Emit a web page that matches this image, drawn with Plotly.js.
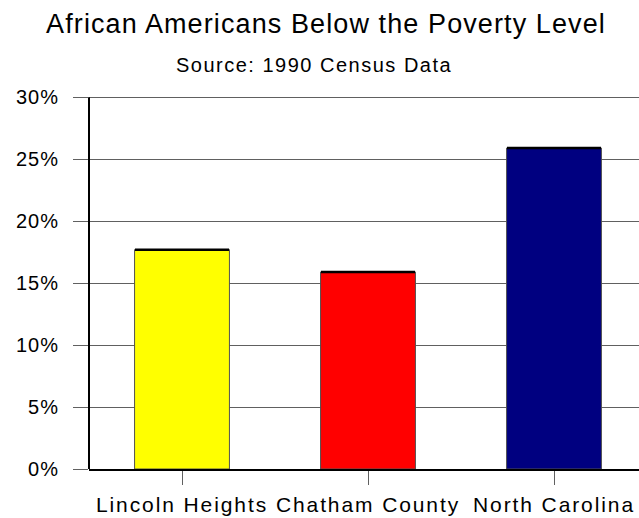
<!DOCTYPE html>
<html>
<head>
<meta charset="utf-8">
<script src="https://cdn.plot.ly/plotly-3.0.1.min.js"></script>
<style>
body{margin:0;padding:0;background:#fff;}
#chart{width:639px;height:518px;}
.gtitle{letter-spacing:1.1px;}
.annotation-text{letter-spacing:1.5px;}
.xtick text{letter-spacing:1.9px;}
.ytick text{letter-spacing:1px;}
</style>
</head>
<body>
<div id="chart"></div>
<script>
var categories = ["Lincoln Heights", "Chatham County", "North Carolina"];
var values = [17.7, 15.9, 25.9];
var barColors = ["#FFFF00", "#FF0000", "#000080"];
var yTicks = [0, 5, 10, 15, 20, 25, 30];
var yTickLabels = ["0%", "5%", "10%", "15%", "20%", "25%", "30%"];

var W = 639, H = 518;
var mL = 89, mR = 0, mT = 91, mB = 49;
var plotW = W - mL - mR;
var plotH = H - mT - mB;
var catWidth = 186;
var xMax = -0.5 + plotW / catWidth;
var yMax = 30.5;
var axisTop = yTicks[yTicks.length - 1];

var trace = {
  type: "bar",
  x: categories,
  y: values,
  width: 0.51,
  marker: {color: barColors, line: {color: "#505050", width: 1}},
  error_y: {type: "constant", value: 0, width: 47, thickness: 2.5, color: "#000000"},
  hoverinfo: "none"
};

var font = "Liberation Sans, Arial, sans-serif";
var layout = {
  width: W, height: H,
  margin: {l: mL, r: mR, t: mT, b: mB},
  paper_bgcolor: "#ffffff",
  plot_bgcolor: "#ffffff",
  showlegend: false,
  font: {family: font, color: "#000000"},
  title: {
    text: "African Americans Below the Poverty Level",
    font: {family: font, size: 27, color: "#000000"},
    x: 326 / W, xanchor: "center", xref: "container",
    y: 1 - 24 / H, yanchor: "middle", yref: "container"
  },
  annotations: [{
    text: "Source: 1990 Census Data",
    xref: "paper", yref: "paper",
    x: (314 - mL) / plotW, y: 1 + (mT - 65) / plotH,
    xanchor: "center", yanchor: "middle",
    showarrow: false,
    font: {family: font, size: 20, color: "#000000"}
  }],
  shapes: [{
    type: "line", xref: "paper", yref: "y",
    x0: 0, x1: 0, y0: 0, y1: axisTop,
    line: {color: "#000000", width: 2},
    layer: "above"
  }],
  xaxis: {
    range: [-0.5, xMax],
    showline: true, linecolor: "#000000", linewidth: 2,
    ticks: "outside", ticklen: 14, tickcolor: "#606060", tickwidth: 1,
    showgrid: false, zeroline: false,
    ticklabelstandoff: 2,
    tickfont: {family: font, size: 21, color: "#000000"},
    fixedrange: true
  },
  yaxis: {
    range: [0, yMax],
    tickvals: yTicks,
    ticktext: yTickLabels,
    showline: false,
    ticks: "outside", ticklen: 15, tickcolor: "#606060", tickwidth: 1,
    showgrid: true, gridcolor: "#606060", gridwidth: 1,
    zeroline: false,
    ticklabelstandoff: 10,
    tickfont: {family: font, size: 20, color: "#000000"},
    fixedrange: true
  },
  bargap: 0.49
};

Plotly.newPlot("chart", [trace], layout, {displayModeBar: false, staticPlot: true});
</script>
</body>
</html>
